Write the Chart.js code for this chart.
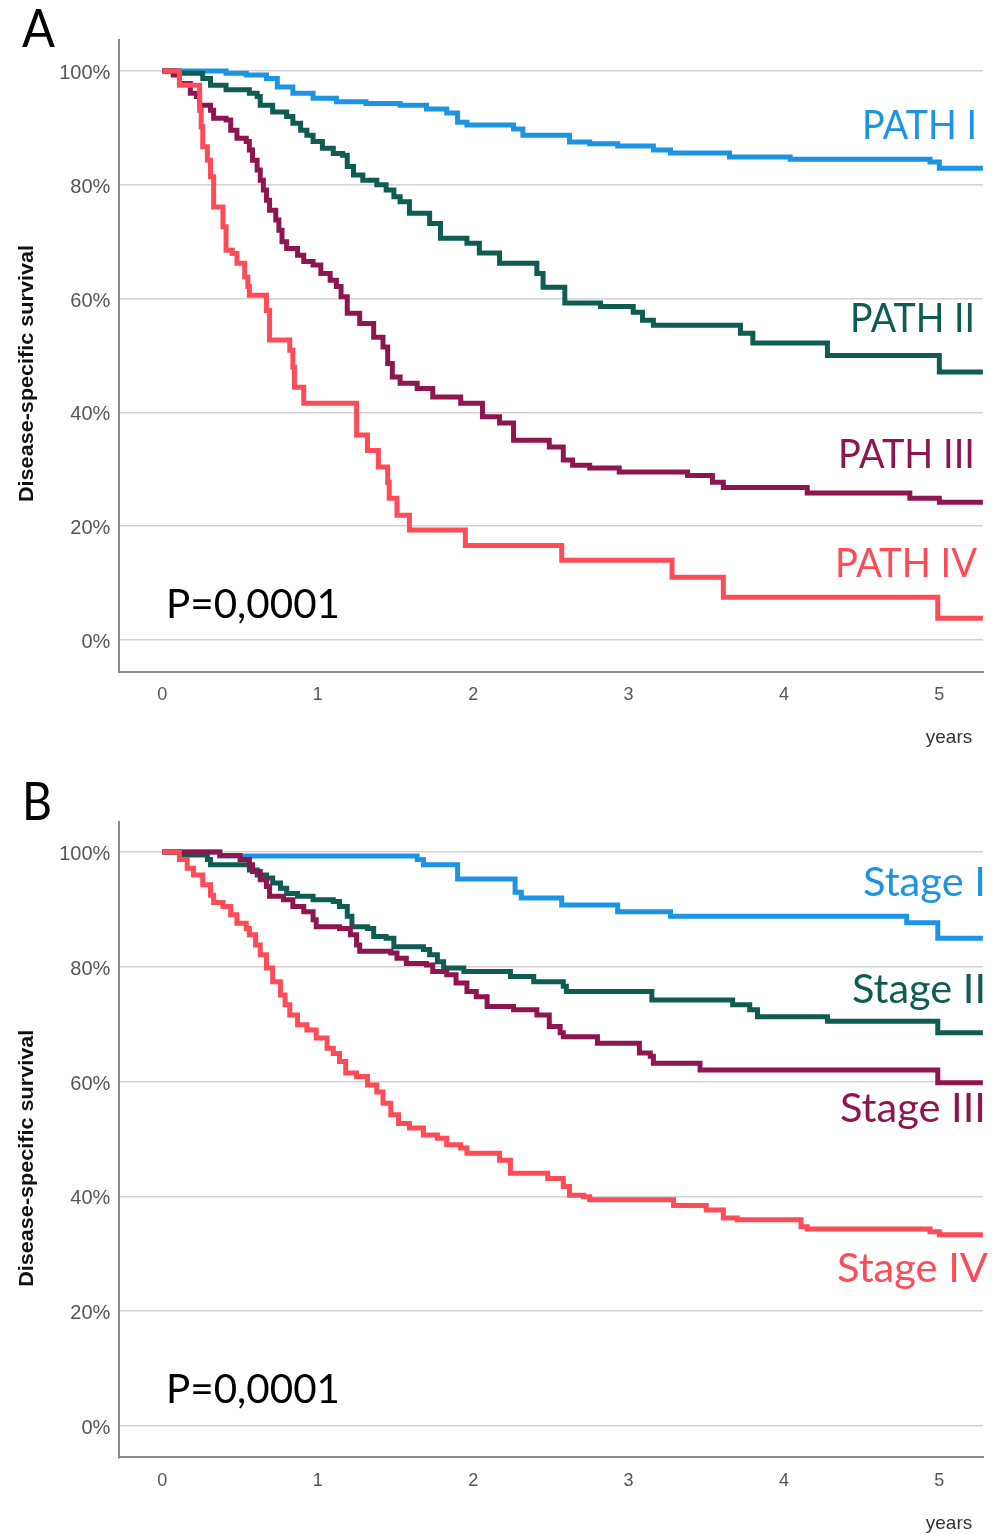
<!DOCTYPE html>
<html><head><meta charset="utf-8">
<script src="https://cdn.jsdelivr.net/npm/chart.js@4.4.1/dist/chart.umd.min.js"></script>
<style>
html,body{margin:0;padding:0;background:#fff;width:1000px;height:1534px;overflow:hidden}
canvas{position:absolute;left:0}
#cA{top:0}
#cB{top:760px}
</style></head><body>
<canvas id="cA" width="1000" height="760"></canvas>
<canvas id="cB" width="1000" height="774"></canvas>
<script>
// ---------------- data ----------------
const yearTicks = [0, 1, 2, 3, 4, 5];
const yearTickLabels = ['0', '1', '2', '3', '4', '5'];
const survivalTicks = [0, 20, 40, 60, 80, 100];
const survivalTickLabels = ['0%', '20%', '40%', '60%', '80%', '100%'];

const panelALabels = ['PATH I', 'PATH II', 'PATH III', 'PATH IV'];
const panelBLabels = ['Stage I', 'Stage II', 'Stage III', 'Stage IV'];
const pValueText = 'P=0,0001';
const xAxisTitle = 'years';
const yAxisTitle = 'Disease-specific survival';

// Panel A (years, survival %)
const pathI_years = [0, 0.41, 0.54, 0.67, 0.74, 0.84, 0.97, 1.12, 1.31, 1.53, 1.70, 1.83, 1.90, 1.96, 2.26, 2.32, 2.62, 2.75, 2.93, 3.16, 3.27, 3.65, 4.04, 4.94, 5.00, 5.28];
const pathI_surv  = [100, 99.6, 99.3, 98.7, 97.2, 96.1, 95.2, 94.6, 94.3, 94.0, 93.3, 92.6, 91.0, 90.5, 89.8, 88.7, 87.5, 87.2, 86.8, 86.1, 85.6, 84.9, 84.5, 84.0, 82.9, 82.9];

const pathII_years = [0, 0.11, 0.26, 0.31, 0.41, 0.56, 0.61, 0.63, 0.71, 0.80, 0.84, 0.89, 0.93, 0.97, 1.03, 1.10, 1.16, 1.19, 1.23, 1.29, 1.38, 1.44, 1.49, 1.53, 1.59, 1.72, 1.79, 1.96, 2.04, 2.17, 2.41, 2.45, 2.59, 2.82, 3.03, 3.09, 3.16, 3.72, 3.80, 4.28, 5.00, 5.28];
const pathII_surv  = [100, 99.6, 98.7, 97.5, 96.7, 96.1, 95.5, 94.0, 92.8, 92.0, 90.8, 89.6, 88.7, 87.6, 86.4, 85.5, 85.2, 83.2, 81.7, 80.8, 80.0, 79.1, 77.9, 77.0, 75.0, 73.2, 70.6, 69.7, 68.0, 66.2, 64.4, 62.0, 59.2, 58.6, 57.6, 56.2, 55.3, 53.9, 52.2, 50.0, 47.1, 47.1];

const pathIII_years = [0, 0.07, 0.11, 0.18, 0.22, 0.24, 0.31, 0.33, 0.41, 0.44, 0.48, 0.54, 0.56, 0.58, 0.61, 0.63, 0.65, 0.67, 0.69, 0.73, 0.75, 0.77, 0.80, 0.87, 0.91, 0.97, 1.02, 1.08, 1.12, 1.15, 1.19, 1.27, 1.36, 1.42, 1.45, 1.48, 1.53, 1.64, 1.74, 1.92, 2.06, 2.17, 2.26, 2.49, 2.58, 2.64, 2.75, 2.94, 3.38, 3.54, 3.61, 4.15, 4.81, 5.00, 5.28];
const pathIII_surv  = [100, 99.3, 97.8, 96.1, 95.5, 94.0, 93.1, 91.7, 91.4, 89.6, 88.2, 87.6, 86.1, 84.3, 82.6, 80.8, 79.1, 77.3, 75.5, 73.8, 72.0, 70.0, 68.8, 67.6, 66.5, 65.9, 64.4, 63.2, 62.1, 60.3, 57.4, 55.6, 53.2, 51.5, 48.6, 46.2, 45.1, 44.2, 42.7, 41.6, 39.2, 38.1, 35.1, 33.9, 31.6, 30.7, 30.2, 29.5, 28.9, 27.7, 26.8, 25.8, 24.9, 24.2, 24.2];

const pathIV_years = [0, 0.11, 0.24, 0.25, 0.26, 0.29, 0.31, 0.33, 0.39, 0.41, 0.45, 0.48, 0.53, 0.55, 0.56, 0.67, 0.69, 0.82, 0.84, 0.85, 0.91, 1.25, 1.32, 1.39, 1.45, 1.46, 1.51, 1.59, 1.95, 2.57, 3.28, 3.61, 4.99, 5.28];
const pathIV_surv  = [100, 97.5, 93.1, 90.2, 86.7, 84.3, 81.4, 76.1, 72.6, 68.5, 67.9, 66.2, 63.8, 62.1, 60.6, 57.9, 52.7, 50.9, 47.9, 44.4, 41.6, 36.0, 33.3, 30.4, 27.7, 24.9, 21.9, 19.3, 16.6, 14.0, 11.0, 7.5, 3.8, 3.8];

// Panel B (years, survival %)
const stageI_years = [0, 0.37, 1.64, 1.68, 1.90, 2.27, 2.31, 2.57, 2.93, 3.27, 4.79, 4.99, 5.28];
const stageI_surv  = [100, 99.3, 98.7, 97.8, 95.3, 93.0, 92.0, 90.8, 89.6, 88.8, 87.7, 85.0, 85.0];

const stageII_years = [0, 0.11, 0.29, 0.31, 0.56, 0.61, 0.67, 0.71, 0.76, 0.80, 0.87, 0.97, 1.10, 1.14, 1.19, 1.22, 1.32, 1.36, 1.44, 1.49, 1.68, 1.72, 1.77, 1.81, 1.94, 2.24, 2.39, 2.58, 2.60, 3.15, 3.67, 3.78, 3.83, 4.28, 4.99, 5.28];
const stageII_surv  = [100, 99.5, 98.7, 97.8, 96.9, 96.0, 95.5, 94.6, 93.7, 92.8, 92.3, 91.7, 91.4, 90.5, 88.8, 87.0, 86.7, 85.3, 85.0, 83.5, 83.0, 82.1, 80.9, 79.8, 79.2, 78.3, 77.4, 76.6, 75.7, 74.2, 73.4, 72.5, 71.3, 70.5, 68.5, 68.5];

const stageIII_years = [0, 0.37, 0.50, 0.56, 0.58, 0.63, 0.67, 0.69, 0.78, 0.84, 0.91, 0.97, 0.99, 1.14, 1.21, 1.25, 1.27, 1.47, 1.51, 1.57, 1.70, 1.74, 1.83, 1.89, 1.96, 2.02, 2.09, 2.26, 2.41, 2.49, 2.56, 2.58, 2.80, 3.07, 3.14, 3.16, 3.46, 4.99, 5.28];
const stageIII_surv  = [100, 99.4, 98.7, 97.8, 96.6, 95.2, 94.0, 92.3, 91.7, 90.5, 89.6, 88.2, 87.0, 86.7, 85.6, 83.8, 82.7, 82.4, 81.5, 80.6, 80.3, 79.2, 78.6, 77.2, 75.7, 74.8, 73.1, 72.5, 71.6, 69.6, 68.5, 67.8, 66.7, 65.0, 64.4, 63.2, 62.0, 59.8, 59.8];

const stageIV_years = [0, 0.11, 0.16, 0.20, 0.26, 0.31, 0.33, 0.39, 0.44, 0.48, 0.54, 0.56, 0.60, 0.63, 0.67, 0.71, 0.76, 0.79, 0.82, 0.87, 0.93, 0.99, 1.06, 1.10, 1.14, 1.18, 1.25, 1.32, 1.38, 1.42, 1.47, 1.52, 1.59, 1.68, 1.77, 1.83, 1.92, 1.96, 2.17, 2.24, 2.48, 2.58, 2.62, 2.71, 2.75, 3.29, 3.50, 3.61, 3.70, 4.11, 4.15, 4.94, 5.00, 5.28];
const stageIV_surv  = [100, 98.7, 97.2, 96.0, 94.3, 92.5, 91.2, 90.5, 89.1, 87.6, 86.7, 85.6, 83.8, 82.1, 79.8, 77.4, 75.1, 73.4, 71.6, 69.9, 69.0, 67.6, 65.8, 64.9, 63.5, 61.5, 60.9, 59.4, 58.2, 56.2, 54.2, 52.7, 51.9, 50.7, 50.1, 49.0, 48.4, 47.5, 46.3, 44.0, 43.1, 41.7, 40.2, 39.9, 39.4, 38.4, 37.6, 36.2, 35.9, 34.7, 34.3, 33.8, 33.3, 33.3];

// ---------------- styles ----------------
const COLORS = ['#1C93E3', '#0E5C52', '#8E1650', '#FB4C58'];
const X_MIN = -0.277, X_MAX = 5.281;
const LABEL_FONT = 'Lato, "Open Sans", sans-serif';
const AXIS_FONT = '"Liberation Sans", Arial, sans-serif';

function series(xs, ys) { return xs.map((x, i) => ({ x: x, y: ys[i] })); }

function makeDatasets(labels, pairs) {
  return pairs.map((p, i) => ({
    label: labels[i],
    data: series(p[0], p[1]),
    borderColor: COLORS[i],
    backgroundColor: COLORS[i],
    borderWidth: 5,
    stepped: true,
    pointRadius: 0,
    fill: false,
    order: 4 - i
  }));
}

const textPlugin = {
  id: 'panelText',
  afterDraw(chart, args, opts) {
    const ctx = chart.ctx;
    (opts.items || []).forEach(it => {
      ctx.save();
      ctx.font = it.font;
      ctx.fillStyle = it.color;
      ctx.textBaseline = 'alphabetic';
      ctx.textAlign = it.align || 'left';
      const w = ctx.measureText(it.text).width;
      const sx = it.width ? it.width / w : 1;
      ctx.translate(it.x, it.y);
      if (it.rotate) ctx.rotate(it.rotate);
      ctx.scale(sx, 1);
      ctx.fillText(it.text, 0, 0);
      ctx.restore();
    });
  }
};

function makeChart(id, datasets, yMin, yMax, topPad, xAxisH, texts) {
  return new Chart(document.getElementById(id), {
    type: 'line',
    data: { datasets: datasets },
    options: {
      responsive: false,
      animation: false,
      devicePixelRatio: 1,
      layout: { padding: { left: 0, right: 17, top: topPad, bottom: 0 } },
      plugins: {
        legend: { display: false },
        tooltip: { enabled: false },
        panelText: { items: texts }
      },
      elements: { line: { tension: 0, borderJoinStyle: 'miter' } },
      scales: {
        x: {
          type: 'linear', min: X_MIN, max: X_MAX,
          afterBuildTicks: s => { s.ticks = yearTicks.map(v => ({ value: v })); },
          afterFit: s => { s.height = xAxisH; },
          grid: { display: false, drawTicks: false },
          border: { display: true, color: '#8a8a8a', width: 2 },
          ticks: {
            padding: 13, color: '#555', autoSkip: false, maxRotation: 0,
            font: { family: AXIS_FONT, size: 18 },
            callback: v => yearTickLabels[yearTicks.indexOf(v)]
          }
        },
        y: {
          type: 'linear', min: yMin, max: yMax,
          afterBuildTicks: s => { s.ticks = survivalTicks.map(v => ({ value: v })); },
          afterFit: s => { s.width = 119.3; },
          grid: { color: '#d2d2d2', lineWidth: 1.5, drawTicks: false },
          border: { display: true, color: '#8a8a8a', width: 2 },
          ticks: {
            padding: 9, color: '#555', autoSkip: false, labelOffset: 2.5,
            font: { family: AXIS_FONT, size: 20 },
            callback: v => survivalTickLabels[survivalTicks.indexOf(v)]
          }
        }
      }
    },
    plugins: [textPlugin]
  });
}

const big = '40px ' + LABEL_FONT;

makeChart('cA',
  makeDatasets(panelALabels, [[pathI_years, pathI_surv], [pathII_years, pathII_surv], [pathIII_years, pathIII_surv], [pathIV_years, pathIV_surv]]),
  -5.6, 105.45, 40, 88.3,
  [
    { text: 'A', x: 22, y: 47, font: '52px ' + LABEL_FONT, color: '#000', width: 33 },
    { text: panelALabels[0], x: 977, y: 139, font: big, color: COLORS[0], align: 'right', width: 115 },
    { text: panelALabels[1], x: 975, y: 332, font: big, color: COLORS[1], align: 'right', width: 125 },
    { text: panelALabels[2], x: 975, y: 468, font: big, color: COLORS[2], align: 'right', width: 137 },
    { text: panelALabels[3], x: 977, y: 577, font: big, color: COLORS[3], align: 'right', width: 142 },
    { text: pValueText, x: 166, y: 618, font: big, color: '#000', width: 174 },
    { text: xAxisTitle, x: 949, y: 743, font: '19px ' + AXIS_FONT, color: '#333', align: 'center' },
    { text: yAxisTitle, x: 33, y: 373.5, font: 'bold 21px ' + AXIS_FONT, color: '#111', align: 'center', rotate: -Math.PI / 2, width: 257 }
  ]);

makeChart('cB',
  makeDatasets(panelBLabels, [[stageI_years, stageI_surv], [stageII_years, stageII_surv], [stageIII_years, stageIII_surv], [stageIV_years, stageIV_surv]]),
  -5.5, 105.3, 61.7, 76.7,
  [
    { text: 'B', x: 22, y: 60, font: '52px ' + LABEL_FONT, color: '#000', width: 30 },
    { text: panelBLabels[0], x: 986, y: 136, font: big, color: COLORS[0], align: 'right', width: 123 },
    { text: panelBLabels[1], x: 986, y: 243, font: big, color: COLORS[1], align: 'right', width: 134 },
    { text: panelBLabels[2], x: 986, y: 362, font: big, color: COLORS[2], align: 'right', width: 146 },
    { text: panelBLabels[3], x: 988, y: 522, font: big, color: COLORS[3], align: 'right', width: 151 },
    { text: pValueText, x: 166, y: 643, font: big, color: '#000', width: 174 },
    { text: xAxisTitle, x: 949, y: 769, font: '19px ' + AXIS_FONT, color: '#333', align: 'center' },
    { text: yAxisTitle, x: 33, y: 398.3, font: 'bold 21px ' + AXIS_FONT, color: '#111', align: 'center', rotate: -Math.PI / 2, width: 257 }
  ]);
</script>
</body></html>
